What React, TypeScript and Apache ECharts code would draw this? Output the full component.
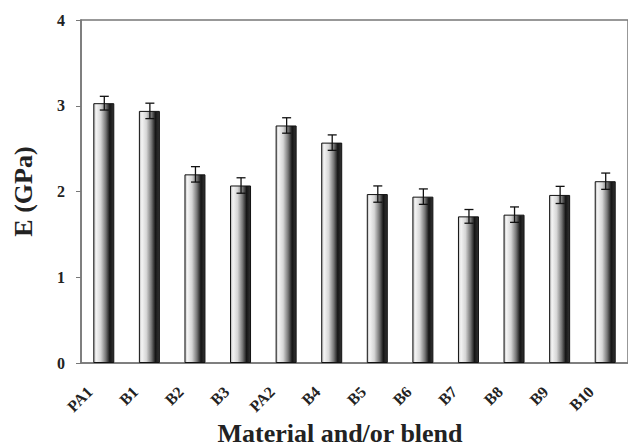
import React, { useEffect, useRef } from "react";
import * as echarts from "echarts";

const categories = ["PA1", "B1", "B2", "B3", "PA2", "B4", "B5", "B6", "B7", "B8", "B9", "B10"];
const modulusValues = [3.03, 2.94, 2.2, 2.07, 2.77, 2.57, 1.97, 1.94, 1.71, 1.73, 1.96, 2.12];
const modulusErrors = [0.08, 0.09, 0.09, 0.09, 0.09, 0.09, 0.095, 0.09, 0.08, 0.09, 0.1, 0.095];
const yTicks = [0, 1, 2, 3, 4];

const FONT = "'Liberation Serif', 'Times New Roman', serif";

export default function App() {
  const ref = useRef<HTMLDivElement>(null);
  useEffect(() => {
    if (!ref.current) return;
    const chart = echarts.init(ref.current, null, { renderer: "svg" });
    const errData = modulusValues.map((v, i) => [i, v - modulusErrors[i], v + modulusErrors[i]]);
    chart.setOption({
      animation: false,
      backgroundColor: "#ffffff",
      grid: {
        left: 81,
        right: -11,
        top: 20,
        bottom: 83,
        show: true,
        borderColor: "#777",
        borderWidth: 1.5,
        backgroundColor: "transparent",
      },
      xAxis: {
        type: "category",
        data: categories,
        axisLine: { show: true, lineStyle: { color: "#777", width: 1.5 } },
        axisTick: { show: false },
        axisLabel: {
          rotate: 45,
          margin: 12,
          padding: [0, 20, 0, 0],
          fontFamily: FONT,
          fontWeight: "bold",
          fontSize: 16,
          color: "#222",
        },
      },
      yAxis: {
        type: "value",
        min: yTicks[0],
        max: yTicks[yTicks.length - 1],
        interval: 1,
        name: "E (GPa)",
        nameLocation: "middle",
        nameGap: 45,
        nameTextStyle: { fontFamily: FONT, fontWeight: "bold", fontSize: 26, color: "#222" },
        splitLine: { show: false },
        axisLine: { show: true, lineStyle: { color: "#777", width: 1.5 } },
        axisTick: { show: true, inside: false, length: 5, lineStyle: { color: "#777" } },
        axisLabel: {
          margin: 16,
          fontFamily: FONT,
          fontWeight: "bold",
          fontSize: 16,
          color: "#222",
        },
      },
      graphic: [
        {
          type: "text",
          x: 340,
          y: 433,
          style: {
            text: "Material and/or blend",
            font: `bold 26px ${FONT}`,
            fill: "#222",
            textAlign: "center",
            textVerticalAlign: "middle",
          },
        },
      ],
      series: [
        {
          type: "bar",
          data: modulusValues,
          barWidth: 21,
          itemStyle: {
            borderColor: "#111",
            borderWidth: 1,
            color: new echarts.graphic.LinearGradient(0, 0, 1, 0, [
              { offset: 0, color: "#bbbbbb" },
              { offset: 0.12, color: "#f4f4f4" },
              { offset: 0.35, color: "#d6d6d6" },
              { offset: 0.6, color: "#777777" },
              { offset: 0.8, color: "#151515" },
              { offset: 1, color: "#333333" },
            ]),
          },
        },
        {
          type: "custom",
          data: errData,
          z: 10,
          renderItem: (params: any, api: any) => {
            const x = api.value(0);
            const lo = api.coord([x, api.value(1)]);
            const hi = api.coord([x, api.value(2)]);
            const cx = lo[0] + 0.5;
            const hw = 4.5;
            const style = { stroke: "#111", lineWidth: 1.3 };
            return {
              type: "group",
              children: [
                { type: "line", shape: { x1: cx, y1: hi[1], x2: cx, y2: lo[1] }, style },
                { type: "line", shape: { x1: cx - hw, y1: hi[1], x2: cx + hw, y2: hi[1] }, style },
                { type: "line", shape: { x1: cx - hw, y1: lo[1], x2: cx + hw, y2: lo[1] }, style },
              ],
            };
          },
        },
      ],
    });
    return () => chart.dispose();
  }, []);
  return (
    <div
      ref={ref}
      style={{ position: "fixed", left: 0, top: 0, width: 628, height: 446, background: "#fff" }}
    />
  );
}
